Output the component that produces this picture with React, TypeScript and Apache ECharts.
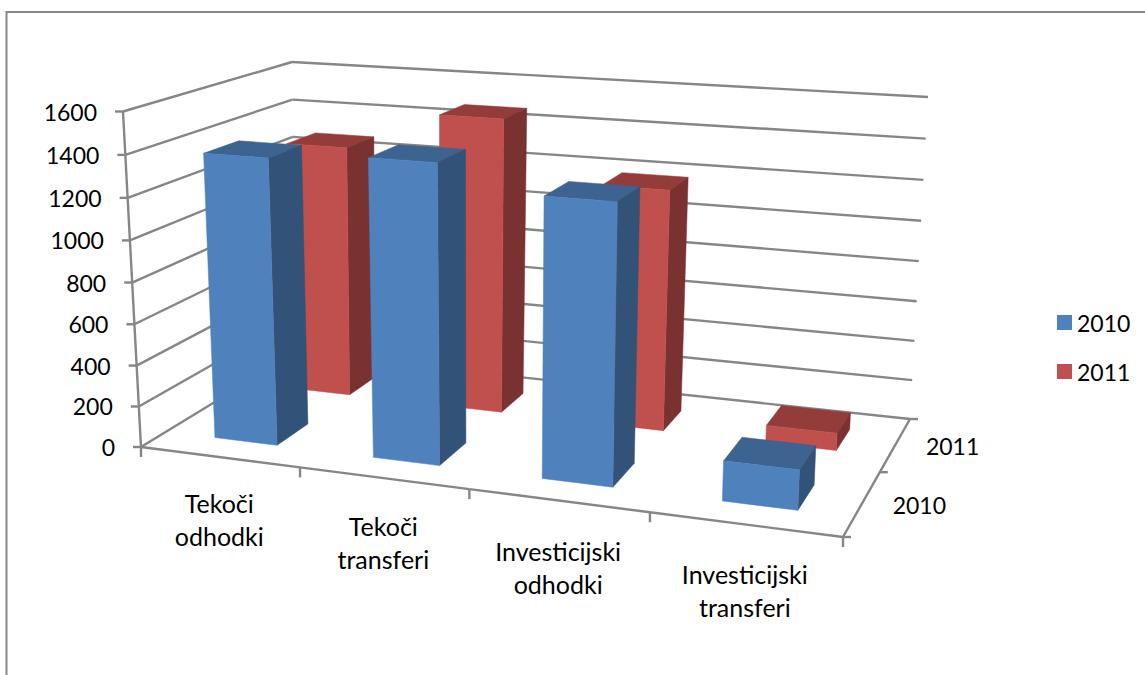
import React, { useEffect, useRef } from "react";
import * as echarts from "echarts";

const categories = ["Tekoči\nodhodki", "Tekoči\ntransferi", "Investicijski\nodhodki", "Investicijski\ntransferi"];
const rows = ["2010", "2011"];
const values2010 = [1385, 1420, 1305, 185];
const values2011 = [1285, 1480, 1190, 85];
const valueTicks = [0, 200, 400, 600, 800, 1000, 1200, 1400, 1600];

const GRID_W = 1000;
const GRID_H = 600;
const LINE = "#868686";
const FONT = "Lato";
const FS_NUM = 23;
const FS_WORD = 25;
const LABEL_DROP = [62, 64, 67, 66];

type P = [number, number];
const FLB: P = [141, 447], FRB: P = [843, 537], BLB: P = [295, 353], BRB: P = [910, 419];
const FLT: P = [123, 111.5], FRT: P = [860, 161], BLT: P = [292, 62], BRT: P = [928, 97];

const warp = (t: number, r: number) => t / (t + r * (1 - t));
const mix = (a: P, b: P, t: number): P => [a[0] + (b[0] - a[0]) * t, a[1] + (b[1] - a[1]) * t];

// u along the categories, v up the value axis, w into the depth
function project(u: number, v: number, w: number): P {
  const a = warp(u, 1.138), b = warp(v, 1.04), c = warp(w, 0.82);
  const bottom = mix(mix(FLB, FRB, a), mix(BLB, BRB, a), c);
  const top = mix(mix(FLT, FRT, a), mix(BLT, BRT, a), c);
  return mix(bottom, top, b);
}

const segment = (p: P, q: P) => ({
  type: "line",
  shape: { x1: p[0], y1: p[1], x2: q[0], y2: q[1] },
  style: { stroke: LINE, lineWidth: 2.4 },
  silent: true,
});
const label = (text: string, x: number, y: number, align: string, size: number) => ({
  type: "text",
  style: { text, x, y, align, verticalAlign: "middle", fontFamily: FONT, fontSize: size, lineHeight: 33, fill: "#000" },
  silent: true,
});
const face = (pts: P[], fill: string) => ({
  type: "polygon",
  shape: { points: pts },
  style: { fill, stroke: fill, lineWidth: 0.5 },
  silent: true,
});

const toV = (api: any, value: number) => 1 - api.coord([0, value])[1] / GRID_H;
const toU = (api: any, index: number) => api.coord([index, 0])[0] / GRID_W;

function renderValueTick(_: any, api: any) {
  const val = api.value(0);
  const v = toV(api, val);
  const f = project(0, v, 0);
  const b = project(0, v, 1);
  const r = project(1, v, 1);
  const els: any[] = [
    segment(f, b),
    segment(b, r),
    segment([f[0] - 8, f[1]], f),
    label(String(val), f[0] - 26, f[1], "right", FS_NUM),
  ];
  if (val === 0) {
    const q = project(0, 1, 0);
    els.push(segment(f, q));
  }
  return { type: "group", children: els };
}

function renderCategory(_: any, api: any) {
  const i = api.value(0);
  const edge = project(toU(api, i), 0, 0);
  const start = project(i / categories.length, 0, 0);
  const end = project((i + 1) / categories.length, 0, 0);
  const els: any[] = [
    segment(start, end),
    segment(end, [end[0], end[1] + 10]),
    label(categories[i], edge[0], edge[1] + LABEL_DROP[i], "center", FS_WORD),
  ];
  if (i === 0) els.push(segment(start, [start[0], start[1] + 10]));
  return { type: "group", children: els };
}

function renderRow(_: any, api: any) {
  const i = api.value(0);
  const start = project(1, 0, i / rows.length);
  const end = project(1, 0, (i + 1) / rows.length);
  const mid = project(1, 0, (i + 0.5) / rows.length);
  const els: any[] = [
    segment(start, end),
    segment(end, [end[0] + 8, end[1]]),
    label(rows[i], mid[0] + 57, mid[1] + 2, "center", FS_NUM),
  ];
  if (i === 0) els.push(segment(start, [start[0] + 8, start[1]]));
  return { type: "group", children: els };
}

const barSeries = (name: string, row: number, values: number[], front: string, side: string, top: string) => ({
  type: "custom",
  name,
  coordinateSystem: "cartesian2d",
  itemStyle: { color: front },
  data: values.map((v, i) => [i, v]),
  renderItem: (_: any, api: any) => {
    const uc = toU(api, api.value(0));
    const vt = toV(api, api.value(1));
    const du = (0.4 / categories.length) / 2;
    const dw = (0.4 / rows.length) / 2;
    const wc = (row + 0.5) / rows.length;
    const u0 = uc - du, u1 = uc + du, w0 = wc - dw, w1 = wc + dw;
    return {
      type: "group",
      x: 1,
      y: 1.5,
      children: [
        face([project(u0, vt, w0), project(u1, vt, w0), project(u1, vt, w1), project(u0, vt, w1)], top),
        face([project(u1, 0, w0), project(u1, vt, w0), project(u1, vt, w1), project(u1, 0, w1)], side),
        face([project(u0, 0, w0), project(u1, 0, w0), project(u1, vt, w0), project(u0, vt, w0)], front),
      ],
    };
  },
});

export default function App() {
  const ref = useRef<HTMLDivElement>(null);
  useEffect(() => {
    const chart = echarts.init(ref.current!, undefined, { renderer: "svg" });
    chart.setOption({
      animation: false,
      backgroundColor: "#fff",
      grid: { left: 0, top: 0, width: GRID_W, height: GRID_H, containLabel: false },
      xAxis: { type: "category", data: categories, show: false },
      yAxis: { type: "value", min: 0, max: 1600, interval: 200, show: false },
      legend: {
        orient: "vertical",
        left: 1057,
        top: 311,
        padding: 0,
        itemWidth: 15,
        itemHeight: 15,
        itemGap: 26,
        icon: "rect",
        data: ["2010", "2011"],
        textStyle: { fontFamily: FONT, fontSize: FS_NUM, color: "#000" },
      },
      graphic: [
        {
          type: "polyline",
          shape: { points: [[6.5, 675], [6.5, 12], [1145, 12]] },
          style: { stroke: LINE, lineWidth: 2, fill: "none" },
          silent: true,
        },
      ],
      series: [
        { type: "custom", coordinateSystem: "cartesian2d", data: valueTicks.map((t) => [t]), encode: { y: 0 }, renderItem: renderValueTick, silent: true },
        { type: "custom", coordinateSystem: "cartesian2d", data: categories.map((_, i) => [i]), encode: { x: 0 }, renderItem: renderCategory, silent: true },
        { type: "custom", coordinateSystem: "cartesian2d", data: rows.map((_, i) => [i]), encode: { x: 0 }, renderItem: renderRow, silent: true },
        barSeries("2011", 1, values2011, "#C0504D", "#7A3230", "#933C3A"),
        barSeries("2010", 0, values2010, "#4F81BD", "#335278", "#3D6390"),
      ],
    });
    return () => chart.dispose();
  }, []);
  return <div ref={ref} style={{ position: "absolute", left: 0, top: 0, width: 1145, height: 675 }} />;
}
